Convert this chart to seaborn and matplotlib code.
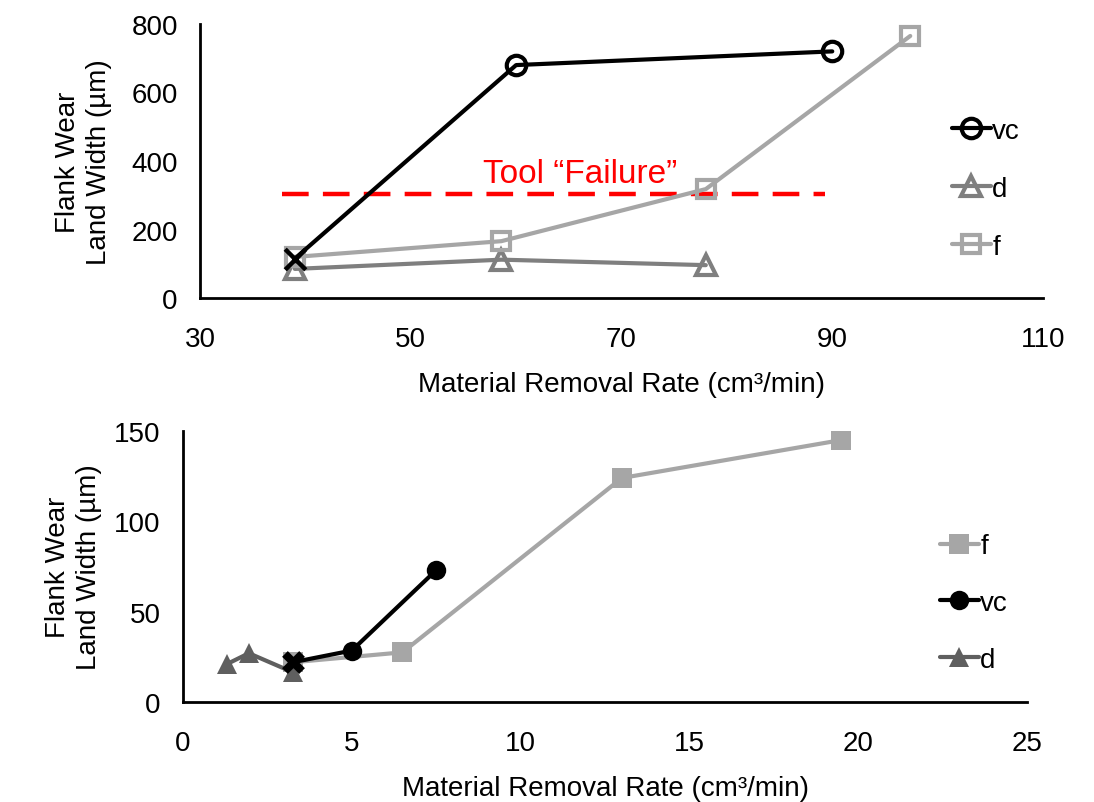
import matplotlib
matplotlib.use("Agg")
import matplotlib.pyplot as plt
from matplotlib.lines import Line2D
import seaborn as sns
import pandas as pd

# ---------------- data ----------------
# top panel
top_vc_x = [39, 60, 90]
top_vc_y = [115, 680, 720]
top_d_x = [39, 58.6, 78]
top_d_y = [85, 112, 96]
top_f_x = [39, 58.6, 78, 97.4]
top_f_y = [120, 166, 318, 765]
failure_level = 305
failure_xmin, failure_xmax = 37.8, 89.3
failure_label = "Tool \u201cFailure\u201d"
top_xticks = [30, 50, 70, 90, 110]
top_yticks = [0, 200, 400, 600, 800]

# bottom panel
bot_f_x = [3.25, 6.5, 13.0, 19.5]
bot_f_y = [22, 27.5, 124, 145]
bot_vc_x = [3.25, 5.0, 7.5]
bot_vc_y = [22, 28.5, 73]
bot_d_x = [1.3, 1.95, 3.25]
bot_d_y = [21, 27, 16.5]
bot_xticks = [0, 5, 10, 15, 20, 25]
bot_yticks = [0, 50, 100, 150]

ylabel = "Flank Wear\nLand Width (\u00b5m)"
xlabel = "Material Removal Rate (cm\u00b3/min)"

# ---------------- style ----------------
sns.set_style("white")
plt.rcParams["font.family"] = ["Liberation Sans", "DejaVu Sans"]
plt.rcParams["text.color"] = "black"
plt.rcParams["axes.labelcolor"] = "black"

BLACK = "#000000"
TOP_D = "#7f7f7f"
TOP_F = "#a6a6a6"
BOT_D = "#5f5f5f"
BOT_F = "#a6a6a6"
FS = 20

fig = plt.figure(figsize=(10.94, 8.03), dpi=100)
ax1 = fig.add_axes([0.1828, 0.6276, 0.9534 - 0.1828, 0.9689 - 0.6276])
ax2 = fig.add_axes([0.1673, 0.1245, 0.9388 - 0.1673, 0.462 - 0.1245])

LW = 3.0


def df(x, y):
    return pd.DataFrame({"x": x, "y": y})


# ---- top panel ----
sns.lineplot(data=df(top_d_x, top_d_y), x="x", y="y", ax=ax1, sort=False,
             color=TOP_D, lw=LW, marker="^", ms=14, mew=3, mfc="none", mec=TOP_D)
sns.lineplot(data=df(top_f_x, top_f_y), x="x", y="y", ax=ax1, sort=False,
             color=TOP_F, lw=LW, marker="s", ms=13, mew=3, mfc="none", mec=TOP_F)
sns.lineplot(data=df(top_vc_x, top_vc_y), x="x", y="y", ax=ax1, sort=False,
             color=BLACK, lw=LW, marker="o", ms=14, mew=3, mfc="none", mec=BLACK,
             markevery=list(range(1, len(top_vc_x))))
sns.scatterplot(x=top_vc_x[:1], y=top_vc_y[:1], ax=ax1, marker="x", s=220,
                color=BLACK, linewidth=3.2, zorder=5)

ax1.hlines(failure_level, failure_xmin, failure_xmax, colors="#ff0000",
           linestyles=(0, (6, 3.2)), lw=3.2, zorder=1)
ax1.text((failure_xmin + failure_xmax) / 2 + 2.5, failure_level + 14, failure_label,
         color="#ff0000", fontsize=24, ha="center", va="bottom")

ax1.set_xlim(top_xticks[0], top_xticks[-1])
ax1.set_ylim(top_yticks[0], top_yticks[-1])
ax1.set_xticks(top_xticks)
ax1.set_yticks(top_yticks)

h1 = [
    Line2D([], [], color=BLACK, lw=LW, marker="o", ms=14, mew=3, mfc="none", mec=BLACK),
    Line2D([], [], color=TOP_D, lw=LW, marker="^", ms=14, mew=3, mfc="none", mec=TOP_D),
    Line2D([], [], color=TOP_F, lw=LW, marker="s", ms=13, mew=3, mfc="none", mec=TOP_F),
]
leg1 = ax1.legend(h1, ["vc", "d", "f"], loc="center left", frameon=False,
                  fontsize=FS, handlelength=1.4, handletextpad=0.05,
                  labelspacing=1.15, borderpad=0, borderaxespad=0)
leg1.set_bbox_to_anchor((952 / 1094, 1 - 190 / 803), transform=fig.transFigure)

# ---- bottom panel ----
sns.lineplot(data=df(bot_f_x, bot_f_y), x="x", y="y", ax=ax2, sort=False,
             color=BOT_F, lw=LW, marker="s", ms=14, mew=0, mfc=BOT_F)
sns.lineplot(data=df(bot_d_x, bot_d_y), x="x", y="y", ax=ax2, sort=False,
             color=BOT_D, lw=LW, marker="^", ms=15, mew=0, mfc=BOT_D)
sns.lineplot(data=df(bot_vc_x, bot_vc_y), x="x", y="y", ax=ax2, sort=False,
             color=BLACK, lw=LW, marker="o", ms=14, mew=0, mfc=BLACK,
             markevery=list(range(1, len(bot_vc_x))))
sns.scatterplot(x=bot_vc_x[:1], y=bot_vc_y[:1], ax=ax2, marker="X", s=270,
                color=BLACK, linewidth=0, zorder=5)

ax2.set_xlim(bot_xticks[0], bot_xticks[-1])
ax2.set_ylim(bot_yticks[0], bot_yticks[-1])
ax2.set_xticks(bot_xticks)
ax2.set_yticks(bot_yticks)

h2 = [
    Line2D([], [], color=BOT_F, lw=LW, marker="s", ms=14, mew=0, mfc=BOT_F),
    Line2D([], [], color=BLACK, lw=LW, marker="o", ms=14, mew=0, mfc=BLACK),
    Line2D([], [], color=BOT_D, lw=LW, marker="^", ms=15, mew=0, mfc=BOT_D),
]
leg2 = ax2.legend(h2, ["f", "vc", "d"], loc="center left", frameon=False,
                  fontsize=FS, handlelength=1.4, handletextpad=0.05,
                  labelspacing=1.1, borderpad=0, borderaxespad=0)
leg2.set_bbox_to_anchor((940 / 1094, 1 - 604 / 803), transform=fig.transFigure)

for ax in (ax1, ax2):
    sns.despine(ax=ax)
    for s in ("left", "bottom"):
        ax.spines[s].set_color(BLACK)
        ax.spines[s].set_linewidth(2)
    ax.tick_params(axis="both", length=0, labelsize=FS, colors=BLACK)
    ax.tick_params(axis="y", pad=16)
    ax.tick_params(axis="x", pad=20)
    ax.set_xlabel(xlabel, fontsize=FS, labelpad=14, color=BLACK)
    ax.set_ylabel(ylabel, fontsize=FS, linespacing=1.25, color=BLACK,
                  va="center", ha="center")
    ax.grid(False)

ax1.yaxis.set_label_coords((84 - 200) / 843, 0.5)
ax2.yaxis.set_label_coords((73 - 183) / 844, 0.5)

fig.savefig("out.png", dpi=100)
